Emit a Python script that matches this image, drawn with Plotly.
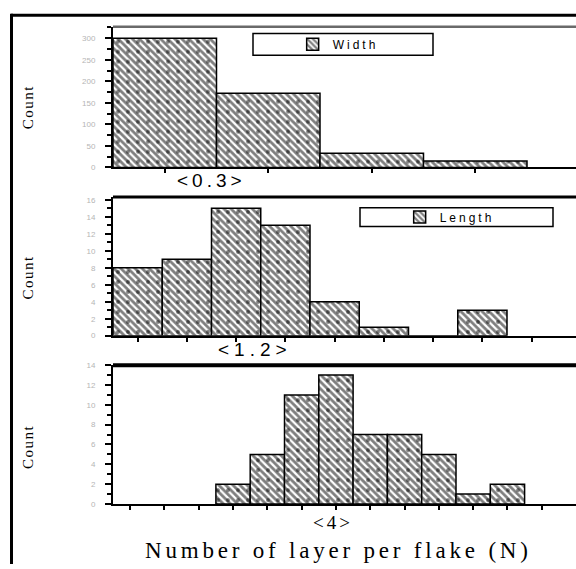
import plotly.graph_objects as go

W, H = 576, 569
def px(x): return x / W
def py(y): return 1 - y / H

# ---- data ----
width_counts = [300, 172, 33, 15]          # panel 1 (Width)
length_counts = [8, 9, 15, 13, 4, 1, 0, 3]  # panel 2 (Length)
layer_counts = [2, 5, 11, 13, 7, 7, 5, 1, 2]  # panel 3 (layers)
layer_start = 3                              # first occupied bin in panel 3

width_x = list(range(len(width_counts)))
length_x = list(range(len(length_counts)))
layer_x = list(range(layer_start, layer_start + len(layer_counts)))

pattern = dict(shape="\\", fgcolor="black", bgcolor="white", size=5, solidity=0.55)
dots = dict(shape=".", fgcolor="black", bgcolor="rgba(0,0,0,0)", size=10, solidity=0.12)
bar_line = dict(color="black", width=1.5)

def spaced(t, ls):
    return f'<span style="letter-spacing:{ls}px">{t}</span>'

fig = go.Figure()
series = [
    (width_x, width_counts, "Width", "x", "y", "legend"),
    (length_x, length_counts, "Length", "x2", "y2", "legend2"),
    (layer_x, layer_counts, "N", "x3", "y3", None),
]
for xs, ys, name, xa, ya, leg in series:
    fig.add_trace(go.Bar(x=xs, y=ys, width=1, name=spaced(name, 3),
                         marker=dict(color="white", line=bar_line, pattern=pattern),
                         xaxis=xa, yaxis=ya, legend=leg or "legend", showlegend=leg is not None))
    fig.add_trace(go.Bar(x=xs, y=ys, width=1, name=name + " dots",
                         marker=dict(color="rgba(0,0,0,0)", line=dict(width=0), pattern=dots),
                         xaxis=xa, yaxis=ya, showlegend=False, hoverinfo="skip"))

x0 = px(113)
tickfont = dict(family="Liberation Sans", size=8, color="#b5b5b5")

def xax(rng, nticks, anchor):
    return dict(domain=[x0, 1], range=rng, anchor=anchor, showgrid=False, zeroline=False,
                showticklabels=False, ticks="outside", ticklen=4, tickwidth=1.5, tickcolor="black",
                tickvals=list(range(nticks)), showline=True, linecolor="black", linewidth=2,
                mirror=False)

def yax(dom, rng, dtick, minor, anchor):
    return dict(domain=dom, range=rng, anchor=anchor, showgrid=False, zeroline=False,
                tickmode="linear", tick0=0, dtick=dtick, ticks="outside", ticklen=6,
                tickwidth=2, tickcolor="black", tickfont=tickfont, ticklabelstandoff=8,
                minor=dict(dtick=minor, ticks="outside", ticklen=4, tickwidth=1.5, tickcolor="black"),
                showline=True, linecolor="black", linewidth=2)

legfont = dict(family="Liberation Sans", size=12, color="black")
fig.update_layout(
    width=W, height=H, margin=dict(l=0, r=0, t=0, b=0),
    paper_bgcolor="white", plot_bgcolor="white", barmode="overlay",
    xaxis=xax([-0.5, -0.5 + 463 / 103.5], 5, "y"),
    xaxis2=xax([-0.5, -0.5 + 463 / 49.25], 9, "y2"),
    xaxis3=xax([-0.5, -0.5 + 463 / 34.3], 13, "y3"),
    yaxis=yax([py(166), py(23)], [0, 327], 50, 25, "x"),
    yaxis2=yax([py(337), py(196)], [0, 16.35], 2, 1, "x2"),
    yaxis3=yax([py(508), py(367)], [0, 14], 2, 1, "x3"),
    legend=dict(x=px(256), y=py(41), xanchor="left", yanchor="middle", orientation="h",
                bgcolor="rgba(0,0,0,0)", borderwidth=0, font=legfont,
                title=dict(text="\u00a0" * 8, side="left", font=legfont), entrywidth=80,
                itemwidth=30),
    legend2=dict(x=px(363), y=py(216.5), xanchor="left", yanchor="middle", orientation="h",
                 bgcolor="rgba(0,0,0,0)", borderwidth=0, font=legfont,
                 title=dict(text="\u00a0" * 8, side="left", font=legfont), entrywidth=90,
                 itemwidth=30),
    showlegend=True,
)

shapes = [
    dict(type="line", xref="paper", yref="paper", x0=px(11), x1=1.0, y0=py(11.5), y1=py(11.5),
         line=dict(color="black", width=3)),
    dict(type="line", xref="paper", yref="paper", x0=px(11.5), x1=px(11.5), y0=py(10), y1=0,
         line=dict(color="black", width=3)),
    dict(type="line", xref="paper", yref="paper", x0=x0, x1=1.0, y0=py(23), y1=py(23),
         line=dict(color="#6a6a6a", width=2.5)),
    dict(type="line", xref="paper", yref="paper", x0=x0, x1=1.0, y0=py(196), y1=py(196),
         line=dict(color="black", width=3)),
    dict(type="line", xref="paper", yref="paper", x0=x0, x1=1.0, y0=py(367), y1=py(367),
         line=dict(color="black", width=4)),
    # legend frames
    dict(type="rect", xref="paper", yref="paper", x0=px(253), x1=px(433), y0=py(30), y1=py(52),
         line=dict(color="black", width=1.5), fillcolor="white", layer="below"),
    dict(type="rect", xref="paper", yref="paper", x0=px(360), x1=px(553), y0=py(207), y1=py(226),
         line=dict(color="black", width=1.5), fillcolor="white", layer="below"),
]
fig.update_layout(shapes=shapes)

ann = []
for yc in (105, 278, 450):
    ann.append(dict(text=spaced("Count", 1.5), x=px(28), y=py(yc), xref="paper", yref="paper",
                    xanchor="center", yanchor="middle", showarrow=False, textangle=-90,
                    font=dict(family="Liberation Serif", size=15, color="black")))
ann.append(dict(text=spaced("&lt;0.3&gt;", 4), x=px(211), y=py(179), xref="paper", yref="paper",
                xanchor="center", yanchor="middle", showarrow=False,
                font=dict(family="Liberation Sans", size=19, color="black")))
ann.append(dict(text=spaced("&lt;1.2&gt;", 5), x=px(255), y=py(351), xref="paper", yref="paper",
                xanchor="center", yanchor="middle", showarrow=False,
                font=dict(family="Liberation Sans", size=19, color="black")))
ann.append(dict(text=spaced("&lt;4&gt;", 3), x=px(333), y=py(527), xref="paper", yref="paper",
                xanchor="center", yanchor="middle", showarrow=False,
                font=dict(family="Liberation Serif", size=19, color="black")))
ann.append(dict(text=spaced("Number of layer per flake (N)", 3.8), x=px(338), y=py(555),
                xref="paper", yref="paper", xanchor="center", yanchor="middle", showarrow=False,
                font=dict(family="Liberation Serif", size=23, color="black")))
fig.update_layout(annotations=ann)

fig.write_html("out.html")
